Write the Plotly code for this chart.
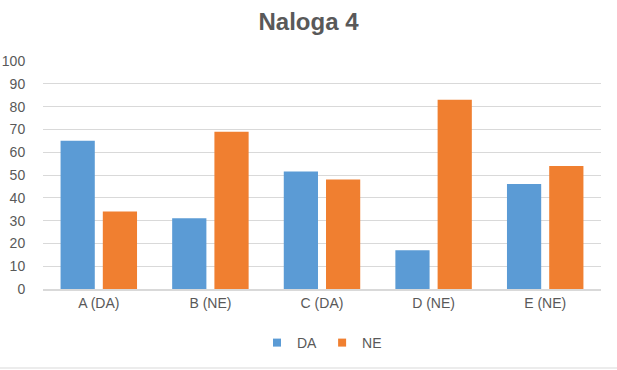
import plotly.graph_objects as go

categories = ["A (DA)", "B (NE)", "C (DA)", "D (NE)", "E (NE)"]
da_values = [65, 31, 51.5, 17, 46]
ne_values = [34, 69, 48, 83, 54]
y_ticks = [0, 10, 20, 30, 40, 50, 60, 70, 80, 90, 100]
series_names = ["DA", "NE"]
series_colors = ["#5B9BD5", "#F07F30"]

font_family = "Liberation Sans, Arial, sans-serif"
gray = "#595959"

fig = go.Figure()
for name, vals, col in zip(series_names, [da_values, ne_values], series_colors):
    fig.add_trace(go.Bar(name=name, x=categories, y=vals, showlegend=False,
                         legendgroup=name,
                         marker=dict(color=col, line=dict(width=0))))
# legend-only entries with small square swatches
for name, col in zip(series_names, series_colors):
    fig.add_trace(go.Scatter(name=name, x=[None], y=[None], mode="markers",
                             legendgroup=name,
                             marker=dict(symbol="square", size=8, color=col)))

fig.update_layout(
    width=617, height=370,
    margin=dict(l=43, r=16, t=61, b=81, autoexpand=False),
    paper_bgcolor="white", plot_bgcolor="white",
    barmode="group", bargap=0.243, bargroupgap=0.19,
    font=dict(family=font_family, color=gray, size=14),
    title=dict(text="<b>Naloga 4</b>", x=0.5, xanchor="center",
               y=1 - 22 / 370, yanchor="middle", yref="container",
               font=dict(size=24, color=gray, family=font_family)),
    xaxis=dict(showline=True, linecolor="#D9D9D9", linewidth=2,
               showgrid=False, ticks="", tickfont=dict(size=14, color=gray)),
    yaxis=dict(range=[0, 100], tickvals=y_ticks, showgrid=True,
               gridcolor="#D9D9D9", gridwidth=1, zeroline=False,
               showline=False, ticks="outside", ticklen=14,
               tickcolor="rgba(0,0,0,0)", tickfont=dict(size=14, color=gray)),
    legend=dict(orientation="h", x=0.5, xanchor="center",
                y=1 - 343 / 370, yref="container",
                yanchor="middle", font=dict(size=14, color=gray),
                itemwidth=30, traceorder="normal"),
    shapes=[dict(type="line", xref="paper", yref="paper",
                 x0=-43 / 558, x1=1 + 16 / 558, y0=-79 / 228, y1=-79 / 228,
                 line=dict(color="#D9D9D9", width=1))],
)

fig.write_html("out.html", config={"displayModeBar": False},
               post_script="document.body.style.margin='0';document.body.style.overflow='hidden';")
